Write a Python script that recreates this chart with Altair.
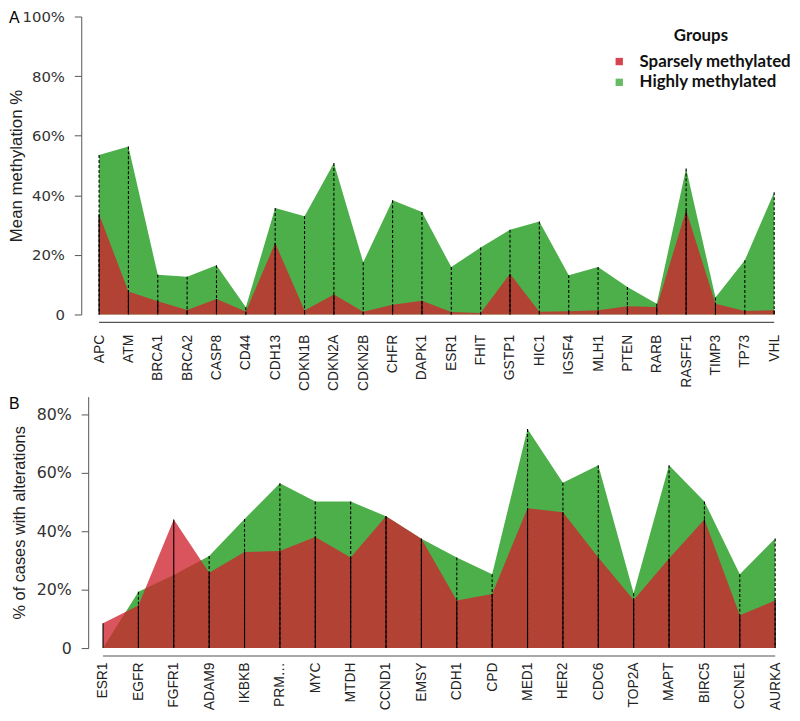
import altair as alt
import pandas as pd

genes_a = ["APC", "ATM", "BRCA1", "BRCA2", "CASP8", "CD44", "CDH13", "CDKN1B",
           "CDKN2A", "CDKN2B", "CHFR", "DAPK1", "ESR1", "FHIT", "GSTP1", "HIC1",
           "IGSF4", "MLH1", "PTEN", "RARB", "RASFF1", "TIMP3", "TP73", "VHL"]
high_a = [53.5, 56.4, 13.3, 12.7, 16.5, 2.4, 35.7, 33.0, 50.8, 17.5, 38.3, 34.4,
          15.9, 22.5, 28.4, 31.2, 13.2, 15.9, 9.2, 3.6, 49.0, 5.7, 18.2, 41.0]
sparse_a = [33.6, 7.7, 4.4, 1.5, 5.2, 1.0, 24.0, 1.3, 6.7, 0.9, 3.3, 4.6,
            0.8, 0.5, 13.7, 0.9, 1.1, 1.4, 2.8, 2.5, 35.0, 3.6, 1.2, 1.4]

genes_b = ["ESR1", "EGFR", "FGFR1", "ADAM9", "IKBKB", "PRMD14", "MYC", "MTDH",
           "CCND1", "EMSY", "CDH1", "CPD", "MED1", "HER2", "CDC6", "TOP2A",
           "MAPT", "BIRC5", "CCNE1", "AURKA"]
high_b = [0.0, 19.3, 25.0, 31.5, 44.2, 56.4, 50.2, 50.2, 45.1, 37.4, 31.0, 25.3,
          75.0, 56.6, 62.6, 18.8, 62.6, 50.2, 25.3, 37.5]
sparse_b = [8.5, 14.6, 44.0, 25.8, 32.9, 33.2, 38.0, 31.0, 45.1, 37.4, 16.3, 18.5,
            47.9, 46.5, 31.0, 16.5, 30.7, 44.0, 11.2, 16.3]

groups = ["Sparsely methylated", "Highly methylated"]
GREEN = "#4DAF4A"
RED = "#CE242E"
color_scale = alt.Scale(domain=groups, range=[RED, GREEN])

legend = alt.Legend(
    title="Groups", orient="none", legendX=528, legendY=12,
    titleFont="Lato", titleFontSize=17, titleFontWeight="bold", titleColor="#111",
    titleAnchor="middle", titlePadding=8,
    labelFont="Lato", labelFontSize=17, labelFontWeight="bold", labelColor="#111",
    symbolType="square", symbolSize=55, symbolStrokeWidth=0, symbolOpacity=0.85,
    labelOffset=12, rowPadding=3, padding=0,
)


def panel(genes, high, sparse, letter, ytitle, ymax, yvals, height, width,
          pad, align, yoffset, ylab_size, ylab_pad, title_x, title_size,
          xlab_pad, xlab_limit, letter_y, show_legend):
    df = pd.DataFrame({"gene": genes, "high": high, "sparse": sparse})
    xscale = alt.Scale(type="point", domain=genes, padding=pad, align=align, round=False)
    xaxis = alt.Axis(title=None, labelAngle=-90, domain=False, ticks=False,
                     labelPadding=xlab_pad, labelFont="Liberation Sans",
                     labelFontSize=14, labelColor="#222", labelLimit=xlab_limit)
    yscale = alt.Scale(domain=[0, ymax], nice=False, zero=True)
    yaxis = alt.Axis(values=yvals, grid=False,
                     labelExpr="datum.value == 0 ? '0' : datum.value + '%'",
                     offset=yoffset, domainColor="#555", tickColor="#555",
                     tickSize=7, labelFont="DejaVu Sans", labelFontSize=ylab_size,
                     labelColor="#333", labelPadding=ylab_pad,
                     title=ytitle, titleFont="Liberation Sans",
                     titleFontSize=title_size, titleFontWeight="normal",
                     titleColor="#222", titleX=title_x, titleBaseline="bottom")
    xenc = alt.X("gene:N", sort=genes, scale=xscale, axis=xaxis)
    leg = legend if show_legend else None

    base = alt.Chart(df)
    green = base.transform_calculate(group="'Highly methylated'").mark_area().encode(
        x=xenc, y=alt.Y("high:Q", scale=yscale, axis=yaxis),
        color=alt.Color("group:N", scale=color_scale, legend=leg))
    red = base.transform_calculate(group="'Sparsely methylated'").mark_area(opacity=0.78).encode(
        x=xenc, y=alt.Y("sparse:Q", scale=yscale, axis=yaxis),
        color=alt.Color("group:N", scale=color_scale, legend=leg))
    dashed = base.mark_rule(color="black", strokeWidth=1.1, strokeDash=[3, 2]).encode(
        x=xenc, y=alt.Y("high:Q", scale=yscale, axis=yaxis), y2=alt.datum(0))
    solid = base.mark_rule(color="black", strokeWidth=1.1).encode(
        x=xenc, y=alt.Y("sparse:Q", scale=yscale, axis=yaxis), y2=alt.datum(0))
    ends = pd.DataFrame({"g0": [genes[0]], "g1": [genes[-1]]})
    baseline = alt.Chart(ends).mark_rule(color="#555", strokeWidth=1.2).encode(
        x=alt.X("g0:N", sort=genes, scale=xscale, axis=xaxis), x2="g1",
        y=alt.value(height + 8))
    lab = alt.Chart(pd.DataFrame({"t": [letter]})).mark_text(
        align="left", baseline="middle", font="Liberation Sans", fontSize=16,
        color="black").encode(text="t:N", x=alt.value(-80), y=alt.value(letter_y))
    return alt.layer(green, red, dashed, solid, baseline, lab).properties(
        width=width, height=height)


pa = panel(genes_a, high_a, sparse_a, "A", "Mean methylation %", 100,
           [0, 20, 40, 60, 80, 100], 301, 700, 0.3035, 0.611, 7, 15, 10,
           -56, 17, 20, 80, 2, True)
pb = panel(genes_b, high_b, sparse_b, "B", "% of cases with alterations", 86.1,
           [0, 20, 40, 60, 80], 254, 700, 0.2938, 0.714, 0, 16, 10,
           -61, 16.5, 14, 48.5, 7, False)

chart = alt.vconcat(pa, pb, spacing=5).properties(
    padding={"left": 0, "top": -2, "right": 0, "bottom": 0}
).configure_view(stroke=None)

chart.save("out.html", embed_options={"renderer": "svg", "actions": False})
